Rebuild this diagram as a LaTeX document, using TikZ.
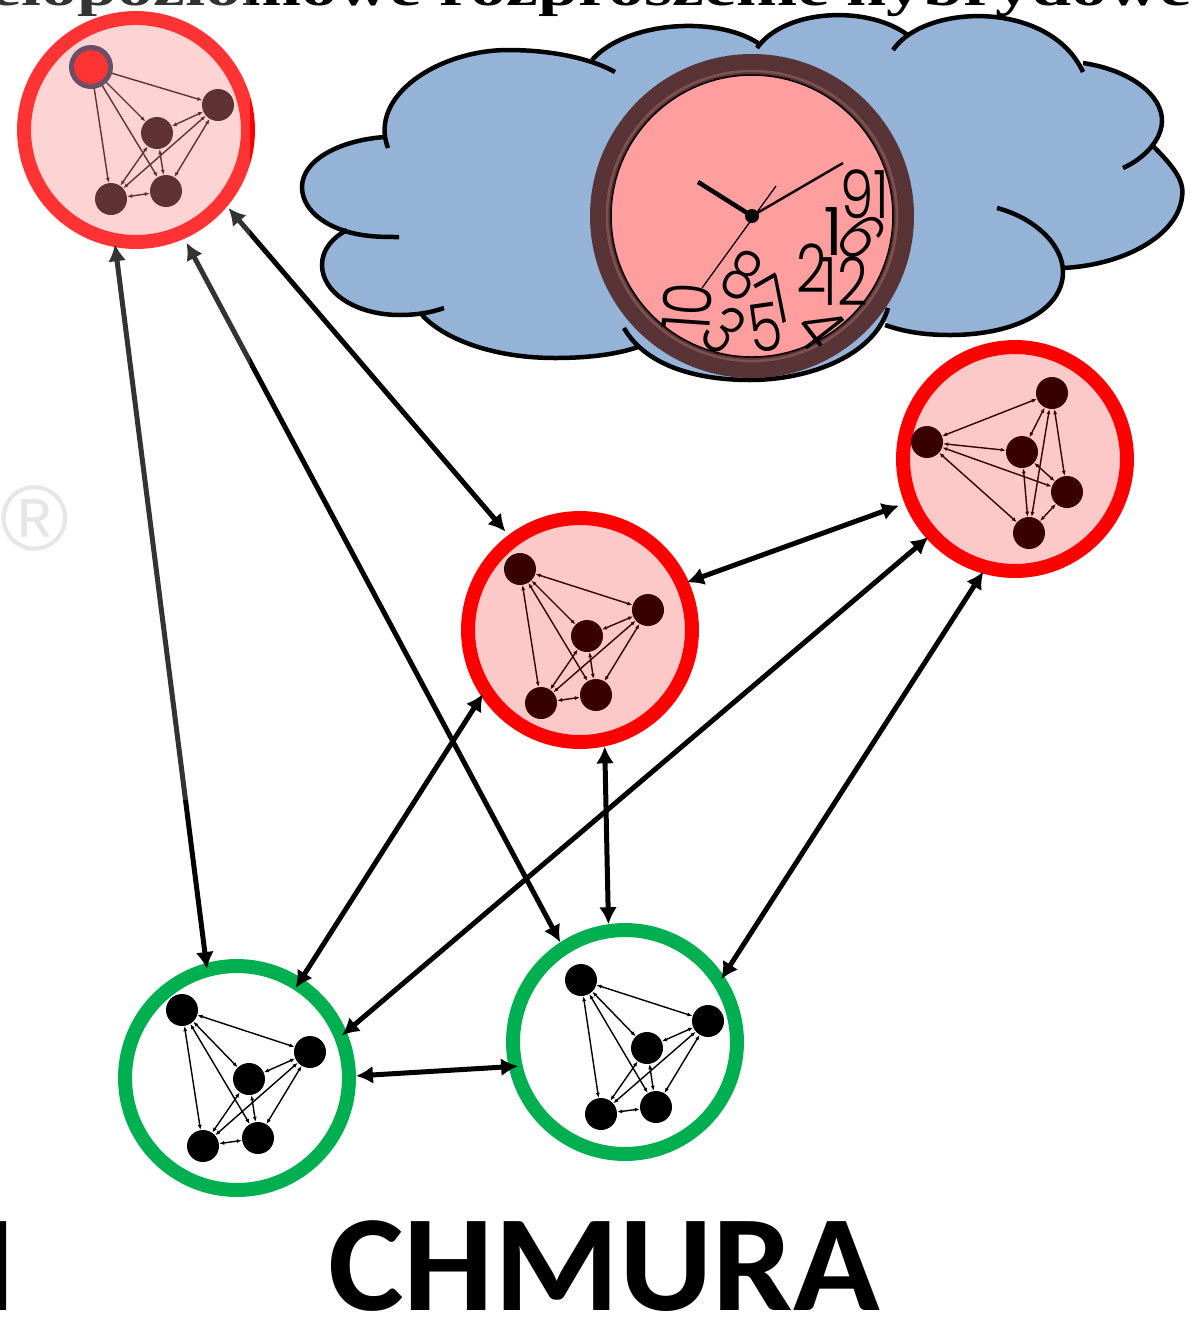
\documentclass[tikz,border=0pt]{standalone}
\usepackage{fontspec}
\usepackage{xcolor}
\usepackage{tikz}
\usetikzlibrary{arrows.meta}

\newfontfamily\headfont{Liberation Serif}
\newfontfamily\tagfont{Carlito}
\newfontfamily\signfont{Liberation Sans}
\newfontfamily\clockfont{Poppins Light}

\definecolor{cloudblue}{HTML}{95B3D7}
\definecolor{hostfill}{HTML}{FDC8C8}
\definecolor{hostdot}{HTML}{380000}
\definecolor{cloudgreen}{HTML}{00B050}
\definecolor{frame}{HTML}{593437}
\definecolor{framelight}{HTML}{7E5050}
\definecolor{face}{HTML}{FF9E9E}
\definecolor{hotring}{HTML}{452442}

% five dots, every pair joined
\newcommand{\netgraph}[7]{
  \node[dot, fill=#7] (#1a) at (#2) {};
  \node[dot, fill=#7] (#1b) at (#3) {};
  \node[dot, fill=#7] (#1c) at (#4) {};
  \node[dot, fill=#7] (#1d) at (#5) {};
  \node[dot, fill=#7] (#1e) at (#6) {};
  \foreach \s/\t in {a/b,a/c,a/d,a/e,b/c,b/d,b/e,c/d,c/e,d/e}
    \draw[edge, draw=#7] (#1\s) -- (#1\t);
}

% the arcs of the cloud outline, each with its inner stub
\newcommand{\cloudlobes}[1]{
  #1{(388,148) .. controls (368,95) and (440,50) .. (508,50) .. controls (550,50) and (590,58) .. (615,72)}
  #1{(592,60) .. controls (625,22) and (715,15) .. (758,43)}
  #1{(757,48) .. controls (785,8) and (870,5) .. (909,36)}
  #1{(893,50) .. controls (925,3) and (1050,0) .. (1083,72)}
  #1{(1083,63) .. controls (1130,70) and (1163,95) .. (1162,122) .. controls (1161,140) and (1145,158) .. (1123,168)}
  #1{(1152,145) .. controls (1172,165) and (1185,180) .. (1182,197) .. controls (1178,235) and (1125,265) .. (1063,268)}
  #1{(997,208) .. controls (1035,218) and (1063,245) .. (1063,272) .. controls (1063,310) and (1015,335) .. (950,335) .. controls (925,335) and (905,332) .. (885,325)}
  #1{(888,308) .. controls (875,355) and (810,380) .. (750,380) .. controls (695,380) and (645,365) .. (624,328)}
  #1{(638,347) .. controls (615,355) and (585,358) .. (555,358) .. controls (495,358) and (445,340) .. (422,315)}
  #1{(444,308) .. controls (430,313) and (415,315) .. (400,315) .. controls (355,315) and (322,292) .. (322,265) .. controls (322,250) and (332,238) .. (347,230)}
  #1{(399,237) .. controls (390,237) and (380,237) .. (370,236) .. controls (330,232) and (302,212) .. (302,187) .. controls (302,160) and (340,140) .. (385,137)}
}
\newcommand{\lobefill}[1]{\fill[cloudblue] #1;}
\newcommand{\lobedraw}[1]{\draw[cloudline] #1;}

\begin{document}
\begin{tikzpicture}[
    x=0.02cm, y=-0.02cm,
    host/.style={draw, circle, minimum size=4.48cm, line width=0.28cm, inner sep=0},
    redhost/.style={host, draw=red, fill=hostfill},
    greenhost/.style={host, draw=cloudgreen, fill=white},
    dot/.style={circle, minimum size=0.64cm, inner sep=0},
    hotdot/.style={circle, draw=hotring, fill=red, minimum size=0.78cm, line width=0.1cm, inner sep=0},
    edge/.style={{Latex[length=0.1cm,width=0.08cm]}-{Latex[length=0.1cm,width=0.08cm]}, line width=0.028cm},
    link/.style={{Latex[length=0.34cm,width=0.36cm]}-{Latex[length=0.34cm,width=0.36cm]}, line width=0.1cm},
    cloudline/.style={black, line width=0.09cm},
    numeral/.style={inner sep=0, text=black, xscale=0.8, font=\clockfont\fontsize{38}{38}\selectfont},
  ]
  \useasboundingbox (0,0) rectangle (1192,1330);

  % Cloud
  \cloudlobes{\lobefill}
  \fill[cloudblue] (385,140) -- (500,55) -- (592,60) -- (680,32) -- (755,42) -- (835,20) -- (900,36)
    -- (985,25) -- (1083,66) -- (1130,100) -- (1150,147) -- (1170,200) -- (1065,266) -- (1040,300)
    -- (960,330) -- (885,322) -- (760,372) -- (632,346) -- (550,352) -- (428,317) -- (380,308)
    -- (330,265) -- (347,232) -- (310,190) -- cycle;
  \cloudlobes{\lobedraw}

  % Clock
  \coordinate (hub) at (752,216);
  \fill[frame] (hub) circle[radius=162];
  \draw[framelight, line width=0.05cm] (hub) circle[radius=145];
  \fill[face] (hub) circle[radius=141];
  \draw[black, line width=0.03cm] (hub) circle[radius=141];
  \node[numeral] (n91) at (865,194) {91};
  \node[rotate=-50, numeral] (n6) at (862,237) {6};
  \node[numeral] (n11) at (833,232) {1\kern-0.25em 1};
  \node[numeral] (n12) at (845,281) {12};
  \node[numeral] (n2) at (812,268) {2};
  \node[rotate=-27, numeral] (n8) at (742,275) {8};
  \node[rotate=30, numeral] (n7) at (777,300) {7};
  \node[rotate=8, numeral] (n5) at (765,328) {5};
  \node[rotate=-52, numeral] (n4) at (820,328) {4};
  \node[rotate=-40, numeral] (n3) at (724,330) {3};
  \node[rotate=86, numeral] (n10) at (687,307) {10};
  \draw[black, line width=0.09cm] (hub) -- (698,182);
  \draw[black!80!frame, line width=0.05cm] (hub) -- (843,163);
  \draw[black, line width=0.025cm] (702,288) -- (776,186);
  \fill[black] (hub) circle[radius=7];

  % Hosts
  \node[redhost]   (hostA) at (136,130) {};
  \node[redhost]   (hostB) at (580,630) {};
  \node[redhost]   (hostC) at (1015,459) {};
  \node[greenhost] (hostD) at (237,1078) {};
  \node[greenhost] (hostE) at (625,1042) {};

  \netgraph{ga}{91,67}{218,105}{157,133}{111,199}{166,191}{hostdot}
  \netgraph{gb}{520,569}{648,610}{587,636}{541,703}{596,695}{hostdot}
  \netgraph{gc}{927,442}{1052,393}{1022,452}{1067,492}{1029,533}{hostdot}
  \netgraph{gd}{182,1010}{310,1052}{249,1079}{203,1146}{258,1138}{black}
  \netgraph{ge}{581,980}{708,1021}{647,1048}{601,1114}{656,1107}{black}
  \node[hotdot] (hot) at (gaa) {};

  % Links between hosts
  \draw[link, shorten <=-0.06cm, shorten >=-0.12cm] (hostA.260) -- (hostD.105.5);
  \draw[link, shorten <=0.09cm] (hostA.294) -- (hostE.123);
  \draw[link, shorten <=0.04cm, shorten >=0.09cm] (hostA.-40) -- (hostB.127.7);
  \draw[link, shorten <=-0.04cm, shorten >=0.12cm] (hostB.24.4) -- (hostC.202);
  \draw[link, shorten <=-0.06cm, shorten >=-0.23cm] (hostB.214.4) -- (hostD.57.7);
  \draw[link] (hostB.-78.2) -- (hostE.98.7);
  \draw[link, shorten <=-0.05cm, shorten >=-0.12cm] (hostC.-138.9) -- (hostD.23.6);
  \draw[link, shorten <=-0.04cm, shorten >=-0.09cm] (hostC.-106.6) -- (hostE.34.3);
  \draw[link, shorten >=-0.19cm] (hostD.1.5) -- (hostE.192);

  % Texts
  \node[yscale=0.72, anchor=base west, inner sep=0, font=\headfont\bfseries\fontsize{41}{41}\selectfont]
    (head) at (-31,5.5) {ielopoziomowe rozproszenie hybrydowe};
  \node[xscale=1.044, anchor=center, inner sep=0, font=\tagfont\bfseries\fontsize{78}{78}\selectfont]
    (tag) at (604,1266) {CHMURA};
  \node[anchor=east, inner sep=0, font=\tagfont\bfseries\fontsize{78}{78}\selectfont]
    (tagleft) at (16,1266) {I};
  \node[inner sep=0, text=black!12, font=\signfont\fontsize{53}{53}\selectfont]
    (sign) at (35,518) {®};

  % Washed-out corner
  \fill[white, opacity=0.2] (0,0) rectangle (250,800);
\end{tikzpicture}
\end{document}
